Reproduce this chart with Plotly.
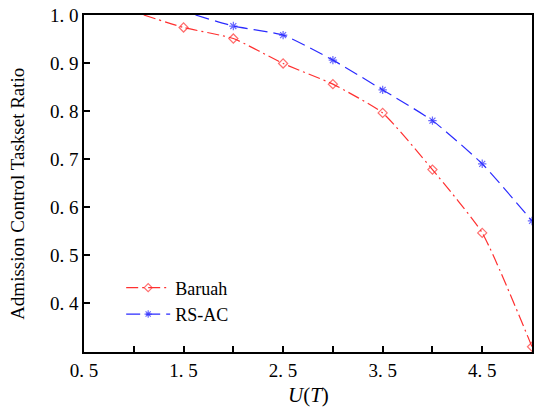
import plotly.graph_objects as go

x_baruah = [1.1, 1.5, 2.0, 2.5, 3.0, 3.5, 4.0, 4.5, 5.0]
y_baruah = [1.0, 0.974, 0.951, 0.899, 0.856, 0.796, 0.678, 0.546, 0.309]
x_rsac = [1.62, 2.0, 2.5, 3.0, 3.5, 4.0, 4.5, 5.0]
y_rsac = [1.0, 0.977, 0.958, 0.906, 0.844, 0.780, 0.690, 0.571]

x_ticks = [0.5, 1.0, 1.5, 2.0, 2.5, 3.0, 3.5, 4.0, 4.5, 5.0]
x_ticktext = ["0. 5", "", "1. 5", "", "2. 5", "", "3. 5", "", "4. 5", ""]
y_ticks = [0.4, 0.5, 0.6, 0.7, 0.8, 0.9, 1.0]
y_ticktext = ["0. 4", "0. 5", "0. 6", "0. 7", "0. 8", "0. 9", "1. 0"]

red = "#ff3030"
blue = "#2b2bff"
font = "Liberation Serif"

fig = go.Figure()
fig.add_trace(go.Scatter(
    x=x_baruah, y=y_baruah, name="Baruah", mode="lines+markers",
    line=dict(color=red, width=1.2, dash="12px,4px,2px,4px", shape="spline", smoothing=0.5),
    marker=dict(symbol="diamond-open", size=[0] + [7] * (len(x_baruah) - 1), color=red,
                line=dict(width=1.2, color=red)),
))
fig.add_trace(go.Scatter(
    x=x_rsac, y=y_rsac, name="RS-AC", mode="lines+markers",
    line=dict(color=blue, width=1.2, dash="14px,6px", shape="spline", smoothing=0.5),
    marker=dict(symbol="asterisk-open", size=[0] + [7] * (len(x_rsac) - 1), color=blue,
                line=dict(width=1.2, color=blue)),
))

fig.update_layout(
    width=534, height=409,
    margin=dict(l=84, r=2, t=15, b=57, autoexpand=False),
    paper_bgcolor="white", plot_bgcolor="white",
    font=dict(family=font, size=19, color="black"),
    legend=dict(x=0.083, y=0.245, xanchor="left", yanchor="top",
                bgcolor="rgba(0,0,0,0)", font=dict(family=font, size=18),
                tracegroupgap=0, itemwidth=44),
    showlegend=True,
    annotations=[
        dict(text="<i>U</i>(<i>T</i>)", xref="paper", yref="paper", x=0.5, y=-0.128,
             xanchor="center", yanchor="middle", showarrow=False,
             font=dict(family=font, size=21)),
        dict(text="Admission Control Taskset Ratio", xref="paper", yref="paper",
             x=-0.149, y=0.47, xanchor="center", yanchor="middle", textangle=-90,
             showarrow=False, font=dict(family=font, size=19)),
    ],
)
fig.update_xaxes(
    range=[0.5, 5.0], tickvals=x_ticks, ticktext=x_ticktext,
    ticks="inside", ticklen=6, tickwidth=1.5, tickcolor="black",
    showline=True, linecolor="black", linewidth=1.5, mirror=True,
    showgrid=False, zeroline=False, automargin=False,
    tickfont=dict(family=font, size=19),
)
fig.update_yaxes(
    range=[0.298, 1.0], tickvals=y_ticks, ticktext=y_ticktext,
    ticks="inside", ticklen=6, tickwidth=1.5, tickcolor="black",
    showline=True, linecolor="black", linewidth=1.5, mirror=True,
    showgrid=False, zeroline=False, automargin=False,
    tickfont=dict(family=font, size=19),
)

fig.write_html("out.html", config={"displayModeBar": False},
               post_script="document.body.style.margin='0';document.body.style.padding='0';")
